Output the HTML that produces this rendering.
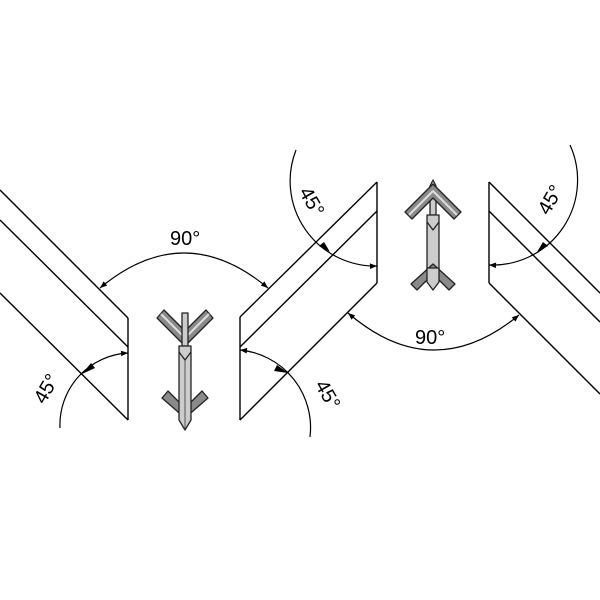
<!DOCTYPE html>
<html><head><style>html,body{margin:0;padding:0;background:#fff;}svg{display:block}</style></head>
<body>
<svg width="600" height="600" viewBox="0 0 600 600" xmlns="http://www.w3.org/2000/svg">
<defs>
<marker id="ar" viewBox="0 0 10 10" refX="10" refY="5" markerWidth="11" markerHeight="7" orient="auto-start-reverse" markerUnits="userSpaceOnUse">
<path d="M0,1 L10,5 L0,9 Z" fill="#000"/></marker>
</defs>
<g stroke="#000" stroke-width="1.4" fill="none">
<line x1="0" y1="190" x2="128" y2="318"/>
<line x1="0" y1="220" x2="128" y2="347"/>
<line x1="0" y1="293" x2="128" y2="420"/>
<line x1="128" y1="318" x2="128" y2="420"/>
<line x1="240" y1="317" x2="377" y2="182"/>
<line x1="240" y1="347" x2="377" y2="211"/>
<line x1="240" y1="420" x2="377" y2="283"/>
<line x1="240" y1="317" x2="240" y2="420"/>
<line x1="377" y1="182" x2="377" y2="283"/>
<line x1="489" y1="182" x2="600" y2="293"/>
<line x1="489" y1="211" x2="600" y2="322"/>
<line x1="489" y1="283" x2="600" y2="394"/>
<line x1="489" y1="182" x2="489" y2="283"/>
<g stroke-width="1.2">
<path d="M100,288 Q184,218 268,288" marker-start="url(#ar)" marker-end="url(#ar)"/>
<path d="M348,313 Q433,386 519,315" marker-start="url(#ar)" marker-end="url(#ar)"/>
<path d="M60,428 A72,72 0 0 1 128,353" marker-end="url(#ar)"/>
<path d="M240,350 A78,78 0 0 1 310,437" marker-start="url(#ar)"/>
<path d="M377,266 A85,85 0 0 1 296,150" marker-start="url(#ar)"/>
<path d="M489,265 A85,85 0 0 0 570,145" marker-start="url(#ar)"/>
</g>
</g>
<g fill="#000">
<path d="M82,374 l9,-11 l4,5 z"/>
<path d="M288,373 l-11,-8 l-3,6 z"/>
<path d="M330,252 l-11,-6 l5,-4 z"/>
<path d="M537,252 l11,-6 l-5,-4 z"/>
</g>
<!-- lower tool -->
<g stroke="#222" stroke-width="1.3" stroke-linejoin="round">
<path d="M157,318 L164,310 L185,331 L206,310 L213,318 L185,346 Z" fill="#8a8a8a"/>
<path d="M161,314 L185,338 L209,314" fill="none" stroke="#ddd" stroke-width="2"/>
<rect x="182" y="313" width="6" height="33" fill="#ccc"/>
<path d="M162,398 L168,391 L185,408 L202,391 L208,398 L185,418 Z" fill="#8a8a8a"/>
<path d="M179,346 L191,346 L191,420 L185,430 L179,420 Z" fill="#ccc"/>
<path d="M179,352 L185,360 L191,352" fill="none"/>
<line x1="185" y1="360" x2="185" y2="428" stroke-width="0.7"/>
</g>
<!-- upper tool -->
<g stroke="#222" stroke-width="1.3" stroke-linejoin="round">
<path d="M430,186 L433,180 L436,186 L436,215 L430,215 Z" fill="#ccc"/>
<path d="M405,212 L412,219 L433,198 L454,219 L461,212 L433,184 Z" fill="#8a8a8a"/>
<path d="M409,215 L433,191 L457,215" fill="none" stroke="#ddd" stroke-width="2"/>
<path d="M427,215 L439,215 L439,280 L433,289 L427,280 Z" fill="#ccc"/>
<path d="M427,222 L433,230 L439,222" fill="none"/>
<path d="M411,284 L417,290 L433,274 L449,290 L455,284 L433,264 Z" fill="#8a8a8a"/>
<path d="M427,268 L439,268 L439,282 L433,290 L427,282 Z" fill="#ccc"/>
</g>
<g font-family="Liberation Sans, sans-serif" font-size="20" fill="#000">
<text x="170" y="245">90°</text>
<text x="415" y="344">90°</text>
<text transform="translate(52,392) rotate(-60)" text-anchor="middle">45°</text>
<text transform="translate(322,398) rotate(60)" text-anchor="middle">45°</text>
<text transform="translate(306,205) rotate(60)" text-anchor="middle">45°</text>
<text transform="translate(556,203) rotate(-60)" text-anchor="middle">45°</text>
</g>
</svg>
</body></html>
